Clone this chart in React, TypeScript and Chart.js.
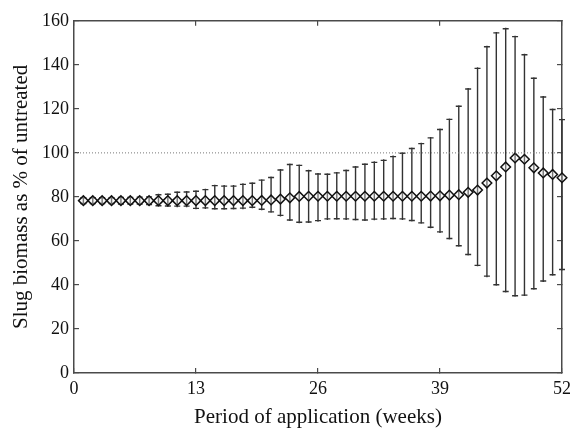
import { useEffect, useRef } from 'react';
import { Chart, registerables } from 'chart.js';

Chart.register(...registerables);

// ---- data ----
const weeks = [
  1, 2, 3, 4, 5, 6, 7, 8, 9, 10, 11, 12, 13, 14, 15, 16, 17, 18, 19, 20, 21, 22, 23, 24, 25, 26,
  27, 28, 29, 30, 31, 32, 33, 34, 35, 36, 37, 38, 39, 40, 41, 42, 43, 44, 45, 46, 47, 48, 49, 50, 51, 52,
];
const means = [
  78.3, 78.3, 78.3, 78.3, 78.3, 78.3, 78.3, 78.3, 78.3, 78.3, 78.3, 78.3, 78.3, 78.3, 78.3, 78.3, 78.3, 78.3, 78.3, 78.4,
  78.6, 79.0, 79.6, 80.2, 80.3, 80.3, 80.3, 80.3, 80.3, 80.3, 80.3, 80.3, 80.3, 80.3, 80.3, 80.3, 80.3, 80.4, 80.5, 80.8,
  81.0, 82.1, 83.1, 86.3, 89.6, 93.6, 97.7, 97.1, 93.2, 90.9, 90.2, 88.7,
];
const upper = [
  79.6, 79.6, 79.6, 79.6, 79.8, 79.8, 79.9, 80.0, 81.0, 81.2, 82.1, 82.2, 82.6, 83.3, 85.1, 84.9, 84.9, 85.7, 86.2, 87.6,
  88.8, 92.2, 94.7, 94.3, 91.9, 90.4, 90.3, 90.9, 92.0, 93.6, 94.8, 95.7, 96.6, 98.3, 99.8, 102.0, 104.2, 106.8, 110.6, 115.2,
  121.2, 129.0, 138.4, 148.2, 154.5, 156.4, 152.8, 144.6, 133.9, 125.4, 119.7, 115.1,
];
const lower = [
  77.0, 77.0, 77.0, 77.0, 76.8, 76.8, 76.7, 76.5, 76.0, 75.9, 75.8, 75.8, 74.8, 75.0, 74.6, 74.6, 74.7, 74.9, 75.3, 74.4,
  73.2, 71.6, 69.5, 68.5, 68.6, 69.2, 70.0, 70.1, 70.0, 69.7, 69.5, 69.9, 70.0, 70.2, 70.0, 69.3, 68.2, 66.2, 64.1, 61.1,
  57.8, 53.8, 48.9, 44.0, 40.1, 37.0, 35.1, 35.4, 38.3, 41.8, 44.6, 47.0,
];
const xTickStep = 13;
const xMin = 0;
const xMax = 52;
const yMin = 0;
const yMax = 160;
const yTickStep = 20;
const referenceLevel = 100;
const xTitle = 'Period of application (weeks)';
const yTitle = 'Slug biomass as % of untreated';

const FONT = '"Liberation Serif", "Times New Roman", serif';

const errorBarPlugin = {
  id: 'errorBars',
  beforeDatasetsDraw(chart: any) {
    const { ctx, scales } = chart;
    const x = scales.x;
    const y = scales.y;
    ctx.save();
    ctx.strokeStyle = '#333';
    ctx.lineWidth = 1.4;
    const cap = 3;
    weeks.forEach((w, i) => {
      const px = x.getPixelForValue(w);
      const pHi = y.getPixelForValue(upper[i]);
      const pLo = y.getPixelForValue(lower[i]);
      ctx.beginPath();
      ctx.moveTo(px, pHi - 1);
      ctx.lineTo(px, pLo + 1);
      ctx.moveTo(px - cap, pHi);
      ctx.lineTo(px + cap, pHi);
      ctx.moveTo(px - cap, pLo);
      ctx.lineTo(px + cap, pLo);
      ctx.stroke();
    });
    ctx.restore();
  },
};

export default function App() {
  const canvasRef = useRef<HTMLCanvasElement | null>(null);

  useEffect(() => {
    if (!canvasRef.current) return;
    Chart.defaults.font.family = FONT;
    const tickFont = { family: FONT, size: 18 };
    const titleFont = { family: FONT, size: 21 };
    const axisColor = '#4a4a4a';
    const gridCommon = {
      drawOnChartArea: false,
      drawTicks: true,
      tickLength: -5,
      color: axisColor,
      lineWidth: 1.2,
    };
    const borderCommon = { color: axisColor, width: 1.5 };

    const chart = new Chart(canvasRef.current, {
      type: 'scatter',
      data: {
        datasets: [
          {
            type: 'line',
            data: [
              { x: xMin, y: referenceLevel },
              { x: xMax, y: referenceLevel },
            ],
            borderColor: '#777',
            borderWidth: 1,
            borderDash: [1, 2],
            pointRadius: 0,
            fill: false,
          } as any,
          {
            type: 'scatter',
            data: weeks.map((w, i) => ({ x: w, y: means[i] })),
            pointStyle: 'rectRot',
            pointRadius: 4.8,
            borderColor: '#111',
            borderWidth: 1.5,
            backgroundColor: 'rgba(235,235,235,0.35)',
            clip: false,
          } as any,
        ],
      },
      options: {
        responsive: false,
        animation: false,
        layout: { padding: 0 },
        plugins: {
          legend: { display: false },
          tooltip: { enabled: false },
        },
        scales: {
          x: {
            type: 'linear',
            position: 'bottom',
            min: xMin,
            max: xMax,
            offset: false,
            ticks: { stepSize: xTickStep, font: tickFont, color: '#111', padding: 10, maxRotation: 0 },
            grid: gridCommon,
            border: borderCommon,
            title: { display: true, text: xTitle, font: titleFont, color: '#111', padding: { top: 0, bottom: 0 } },
            afterFit: (s: any) => {
              s.height = 57;
            },
          },
          x2: {
            type: 'linear',
            axis: 'x',
            position: 'top',
            min: xMin,
            max: xMax,
            offset: false,
            ticks: { stepSize: xTickStep, display: false },
            grid: gridCommon,
            border: borderCommon,
            afterFit: (s: any) => {
              s.height = 17;
            },
          },
          y: {
            type: 'linear',
            position: 'left',
            min: yMin,
            max: yMax,
            ticks: { stepSize: yTickStep, font: tickFont, color: '#111', padding: 10 },
            grid: gridCommon,
            border: borderCommon,
            title: { display: true, text: yTitle, font: titleFont, color: '#111', padding: { top: 9, bottom: 0 } },
            afterFit: (s: any) => {
              s.width = 74;
            },
          },
          y2: {
            type: 'linear',
            axis: 'y',
            position: 'right',
            min: yMin,
            max: yMax,
            ticks: { stepSize: yTickStep, display: false },
            grid: gridCommon,
            border: borderCommon,
            afterFit: (s: any) => {
              s.width = 21;
            },
          },
        } as any,
      },
      plugins: [errorBarPlugin],
    });
    return () => chart.destroy();
  }, []);

  return (
    <div style={{ position: 'fixed', left: 0, top: 0, width: 583, height: 430, background: '#fff' }}>
      <canvas ref={canvasRef} width={583} height={430} style={{ display: 'block' }} />
    </div>
  );
}
